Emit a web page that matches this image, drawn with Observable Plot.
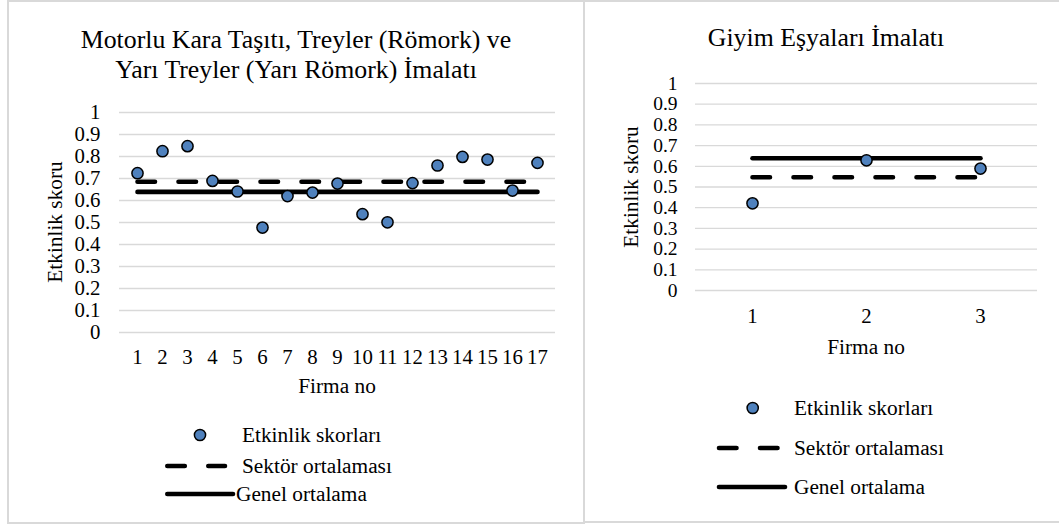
<!DOCTYPE html>
<html>
<head>
<meta charset="utf-8">
<script src="https://cdn.jsdelivr.net/npm/d3@7"></script>
<script src="https://cdn.jsdelivr.net/npm/@observablehq/plot@0.6"></script>
<style>
  html, body { margin: 0; padding: 0; background: #fff; }
  #wrap { position: relative; width: 1059px; height: 527px; overflow: hidden; background: #fff; }
  #wrap > svg, #wrap > figure { position: absolute; margin: 0; }
  #overlay { left: 0; top: 0; pointer-events: none; }
</style>
</head>
<body>
<div id="wrap"></div>
<script>
// ---------------- data ----------------
const titleA = ["Motorlu Kara Taşıtı, Treyler (Römork) ve", "Yarı Treyler (Yarı Römork) İmalatı"];
const firmsA = [1, 2, 3, 4, 5, 6, 7, 8, 9, 10, 11, 12, 13, 14, 15, 16, 17];
const scoresA = [0.724, 0.824, 0.847, 0.689, 0.641, 0.477, 0.620, 0.636, 0.677, 0.538, 0.501, 0.679, 0.759, 0.798, 0.786, 0.645, 0.771];
const sectorA = 0.685;

const titleB = ["Giyim Eşyaları İmalatı"];
const firmsB = [1, 2, 3];
const scoresB = [0.421, 0.629, 0.589];
const sectorB = 0.547;

const generalMean = 0.639;

const yTicks = [0, 0.1, 0.2, 0.3, 0.4, 0.5, 0.6, 0.7, 0.8, 0.9, 1];
const yTickLabels = ["0", "0.1", "0.2", "0.3", "0.4", "0.5", "0.6", "0.7", "0.8", "0.9", "1"];
const xLabel = "Firma no";
const yLabel = "Etkinlik skoru";
const legendLabels = ["Etkinlik skorları", "Sektör ortalaması", "Genel ortalama"];

// ---------------- style ----------------
const FONT = "Liberation Serif, Times New Roman, serif";
const FS = 21.33;
const TITLEFS = 25.8;
const DOT = "#4f81bd";
const GRID = "#d9d9d9";
const LW = 4.6;
const DASH = "17.5,23.5";
const R = 5.6;

function panel(firms, scores, sector, opts) {
  const rows = firms.map((f, i) => ({firm: f, score: scores[i], sector, general: generalMean}));
  return Plot.plot({
    width: opts.width,
    height: 527,
    marginLeft: opts.ml, marginRight: opts.mr, marginTop: opts.mt, marginBottom: opts.mb,
    style: {fontFamily: FONT, fontSize: opts.yfs + "px", color: "#000", background: "transparent", overflow: "visible"},
    x: {type: "point", domain: firms, padding: 0.5, align: 0.5},
    y: {domain: [0, 1]},
    marks: [
      Plot.gridY(yTicks, {stroke: GRID, strokeOpacity: 1, strokeWidth: 1.3}),
      Plot.axisY({ticks: yTicks, tickSize: 0, tickPadding: opts.ypad, label: null,
        tickFormat: d => yTickLabels[yTicks.indexOf(d)], fill: "#000",
        fontSize: opts.yfs, fontFamily: FONT}),
      Plot.axisX({tickSize: 0, tickPadding: opts.xpad, label: null, fill: "#000",
        fontSize: opts.xfs, fontFamily: FONT}),
      Plot.line(rows, {x: "firm", y: "general", stroke: "#000", strokeWidth: LW, strokeLinecap: "round"}),
      Plot.line(rows, {x: "firm", y: "sector", stroke: "#000", strokeWidth: LW, strokeLinecap: "round", strokeDasharray: DASH}),
      Plot.dot(rows, {x: "firm", y: "score", r: R, fill: DOT, stroke: "#000", strokeWidth: 1.5})
    ]
  });
}

const wrap = document.getElementById("wrap");

const pA = panel(firmsA, scoresA, sectorA, {width: 584, ml: 119, mr: 29, mt: 112, mb: 195, ypad: 19, xpad: 17, yfs: 20.8, xfs: 20.8});
pA.style.left = "0px"; pA.style.top = "0px";
wrap.appendChild(pA);

const pB = panel(firmsB, scoresB, sectorB, {width: 475, ml: 111, mr: 22, mt: 83, mb: 237, ypad: 18, xpad: 18, yfs: 19.5, xfs: 20.8});
pB.style.left = "584px"; pB.style.top = "0px";
wrap.appendChild(pB);

// ---------------- overlay: frames, titles, axis titles, legends ----------------
const svg = d3.select(wrap).append("svg").attr("id", "overlay")
  .attr("width", 1059).attr("height", 527)
  .attr("font-family", FONT).attr("font-size", FS);

svg.append("rect").attr("x", 8).attr("y", 1).attr("width", 576).attr("height", 522)
  .attr("fill", "none").attr("stroke", GRID).attr("stroke-width", 2);
svg.append("rect").attr("x", 584).attr("y", 1).attr("width", 500).attr("height", 521)
  .attr("fill", "none").attr("stroke", GRID).attr("stroke-width", 2);

function ctext(x, y, s, anchor = "middle", rot = false, size = FS) {
  const t = svg.append("text").attr("text-anchor", anchor).attr("fill", "#000")
    .attr("font-size", size).attr("font-family", FONT).text(s);
  if (rot) t.attr("transform", `translate(${x},${y}) rotate(-90)`).attr("dy", "0.33em");
  else t.attr("x", x).attr("y", y).attr("dy", "0.33em");
  return t;
}

// Left panel texts
ctext(296, 39, titleA[0], "middle", false, TITLEFS);
ctext(296, 69, titleA[1], "middle", false, TITLEFS);
ctext(337, 386, xLabel);
ctext(55, 222, yLabel, "middle", true);

// Right panel texts
ctext(826, 37, titleB[0], "middle", false, TITLEFS);
ctext(866, 347, xLabel);
ctext(631, 187, yLabel, "middle", true);

function legend(L) {
  svg.append("circle").attr("cx", L.cx).attr("cy", L.y1).attr("r", R)
    .attr("fill", DOT).attr("stroke", "#000").attr("stroke-width", 1.5);
  ctext(L.tx, L.y1, legendLabels[0], "start");
  svg.append("line").attr("x1", L.dx1).attr("x2", L.dx2).attr("y1", L.y2).attr("y2", L.y2)
    .attr("stroke", "#000").attr("stroke-width", LW).attr("stroke-linecap", "round")
    .attr("stroke-dasharray", "17.5,23.5");
  ctext(L.tx, L.y2, legendLabels[1], "start");
  svg.append("line").attr("x1", L.sx1).attr("x2", L.sx2).attr("y1", L.y3).attr("y2", L.y3)
    .attr("stroke", "#000").attr("stroke-width", LW).attr("stroke-linecap", "round");
  ctext(L.tx3, L.y3, legendLabels[2], "start");
}
legend({cx: 200, y1: 435, tx: 242, dx1: 167.3, dx2: 225, y2: 466, sx1: 167.3, sx2: 233, y3: 494, tx3: 236});
legend({cx: 752.7, y1: 408, tx: 794, dx1: 719, dx2: 778, y2: 448, sx1: 719, sx2: 785, y3: 487, tx3: 794});
</script>
</body>
</html>
